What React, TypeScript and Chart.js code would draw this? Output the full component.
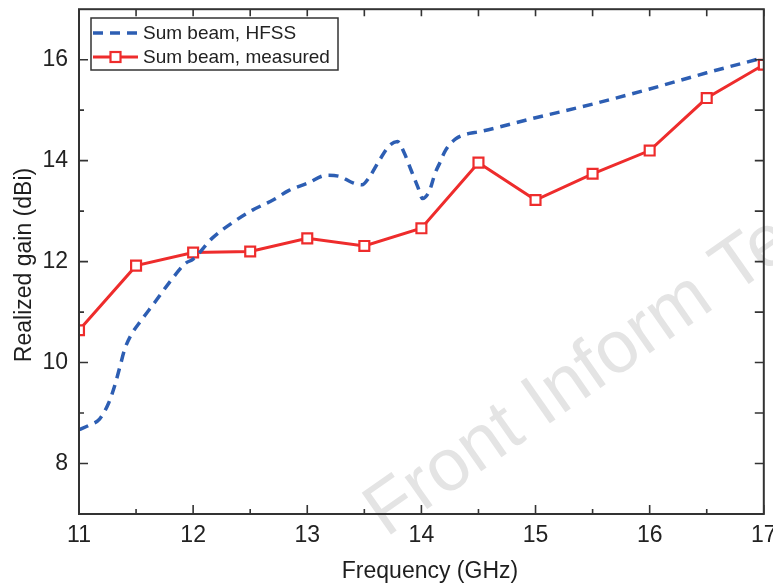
import React, { useEffect, useRef } from "react";
import { Chart, registerables } from "chart.js";

Chart.register(...registerables);

// ---- data ----
const hfssFreq = [
  11.0, 11.1, 11.18, 11.26, 11.31, 11.36, 11.4, 11.45, 11.55, 11.66, 11.81, 11.93,
  12.0, 12.17, 12.35, 12.52, 12.7, 12.84, 13.0, 13.17, 13.28, 13.4, 13.48, 13.54,
  13.63, 13.72, 13.79, 13.85, 13.91, 13.97, 14.01, 14.07, 14.12, 14.16, 14.21, 14.3,
  14.42, 14.5, 15.0, 15.5, 16.0, 16.5, 17.0,
];
const hfssGain = [
  8.67, 8.77, 8.88, 9.2, 9.52, 9.93, 10.26, 10.52, 10.85, 11.18, 11.64, 11.96,
  12.05, 12.47, 12.78, 13.02, 13.22, 13.41, 13.55, 13.71, 13.69, 13.56, 13.52, 13.66,
  14.0, 14.3, 14.38, 14.15, 13.81, 13.47, 13.25, 13.4, 13.75, 13.95, 14.2, 14.43,
  14.54, 14.57, 14.85, 15.12, 15.42, 15.74, 16.04,
];
const measFreq = [11, 11.5, 12, 12.5, 13, 13.5, 14, 14.5, 15, 15.5, 16, 16.5, 17];
const measGain = [10.64, 11.92, 12.18, 12.2, 12.46, 12.31, 12.66, 13.96, 13.22, 13.74, 14.2, 15.24, 15.9];

const xMajorTicks = [11, 12, 13, 14, 15, 16, 17];
const xMinorTicks = [11.5, 12.5, 13.5, 14.5, 15.5, 16.5];
const yMajorTicks = [8, 10, 12, 14, 16];
const yMinorTicks = [9, 11, 13, 15];

const seriesLabels = ["Sum beam, HFSS", "Sum beam, measured"];
const xTitle = "Frequency (GHz)";
const yTitle = "Realized gain (dBi)";
const watermark = "Front Inform Technol Electron Eng";

const BLUE = "#2d5eb3";
const RED = "#ee2c2c";
const FONT = "'Liberation Sans', Arial, sans-serif";

export default function App() {
  const ref = useRef<HTMLCanvasElement | null>(null);

  useEffect(() => {
    document.body.style.margin = "0";
    const canvas = ref.current;
    if (!canvas) return;

    const decor = {
      id: "decor",
      beforeDraw(chart: any) {
        const ctx = chart.ctx;
        ctx.save();
        ctx.fillStyle = "#ffffff";
        ctx.fillRect(0, 0, chart.width, chart.height);
        // watermark
        ctx.translate(386, 538);
        ctx.rotate((-35 * Math.PI) / 180);
        ctx.font = `74px ${FONT}`;
        ctx.fillStyle = "#e4e4e4";
        ctx.textAlign = "left";
        ctx.textBaseline = "alphabetic";
        ctx.fillText(watermark, 0, 0);
        ctx.restore();
      },
      afterDraw(chart: any) {
        const ctx = chart.ctx;
        const a = chart.chartArea;
        const xs = chart.scales.x;
        const ys = chart.scales.y;
        ctx.save();
        ctx.strokeStyle = "#333333";
        ctx.lineWidth = 2;
        ctx.strokeRect(a.left, a.top, a.right - a.left, a.bottom - a.top);
        ctx.lineWidth = 1.6;
        ctx.beginPath();
        xMajorTicks.forEach((v) => {
          const px = xs.getPixelForValue(v);
          ctx.moveTo(px, a.bottom);
          ctx.lineTo(px, a.bottom - 9);
          ctx.moveTo(px, a.top);
          ctx.lineTo(px, a.top + 7);
        });
        xMinorTicks.forEach((v) => {
          const px = xs.getPixelForValue(v);
          ctx.moveTo(px, a.bottom);
          ctx.lineTo(px, a.bottom - 5);
          ctx.moveTo(px, a.top);
          ctx.lineTo(px, a.top + 7);
        });
        yMajorTicks.forEach((v) => {
          const py = ys.getPixelForValue(v);
          ctx.moveTo(a.left, py);
          ctx.lineTo(a.left + 9, py);
          ctx.moveTo(a.right, py);
          ctx.lineTo(a.right - 9, py);
        });
        yMinorTicks.forEach((v) => {
          const py = ys.getPixelForValue(v);
          ctx.moveTo(a.left, py);
          ctx.lineTo(a.left + 5, py);
          ctx.moveTo(a.right, py);
          ctx.lineTo(a.right - 9, py);
        });
        ctx.stroke();

        // axis titles
        ctx.fillStyle = "#1e1e1e";
        ctx.font = `23px ${FONT}`;
        ctx.textAlign = "center";
        ctx.textBaseline = "alphabetic";
        ctx.fillText(xTitle, 430, 578);
        ctx.save();
        ctx.translate(31, 265);
        ctx.rotate(-Math.PI / 2);
        ctx.fillText(yTitle, 0, 0);
        ctx.restore();

        // legend
        const lx = 91, ly = 18, lw = 247, lh = 52;
        ctx.fillStyle = "#ffffff";
        ctx.fillRect(lx, ly, lw, lh);
        ctx.strokeStyle = "#333333";
        ctx.lineWidth = 1.5;
        ctx.strokeRect(lx, ly, lw, lh);
        const r1 = 33, r2 = 57;
        ctx.save();
        ctx.strokeStyle = BLUE;
        ctx.lineWidth = 3.5;
        ctx.setLineDash([10, 7]);
        ctx.beginPath();
        ctx.moveTo(93, r1);
        ctx.lineTo(140, r1);
        ctx.stroke();
        ctx.restore();
        ctx.strokeStyle = RED;
        ctx.lineWidth = 3;
        ctx.beginPath();
        ctx.moveTo(93, r2);
        ctx.lineTo(138, r2);
        ctx.stroke();
        ctx.fillStyle = "#ffffff";
        ctx.fillRect(110.5, r2 - 5, 10, 10);
        ctx.lineWidth = 2.2;
        ctx.strokeRect(110.5, r2 - 5, 10, 10);
        ctx.fillStyle = "#222222";
        ctx.font = `19px ${FONT}`;
        ctx.textAlign = "left";
        ctx.textBaseline = "middle";
        ctx.fillText(seriesLabels[0], 143, r1 + 1);
        ctx.fillText(seriesLabels[1], 143, r2 + 1);
        ctx.restore();
      },
    };

    const zeroPad = (s: any) => {
      s.paddingLeft = 0;
      s.paddingRight = 0;
      s.paddingTop = 0;
      s.paddingBottom = 0;
    };

    const chart = new Chart(canvas, {
      type: "line",
      data: {
        datasets: [
          {
            label: seriesLabels[0],
            data: hfssFreq.map((x, i) => ({ x, y: hfssGain[i] })),
            borderColor: BLUE,
            borderWidth: 3.5,
            borderDash: [10, 7],
            pointRadius: 0,
            cubicInterpolationMode: "monotone",
            fill: false,
          },
          {
            label: seriesLabels[1],
            data: measFreq.map((x, i) => ({ x, y: measGain[i] })),
            borderColor: RED,
            borderWidth: 3,
            pointStyle: "rect",
            pointRadius: 7,
            pointBorderWidth: 2.2,
            pointBackgroundColor: "#ffffff",
            pointBorderColor: RED,
            tension: 0,
            fill: false,
          },
        ],
      },
      options: {
        responsive: false,
        animation: false,
        devicePixelRatio: 1,
        layout: { padding: { top: 8, right: 7, left: 0, bottom: 0 } },
        plugins: { legend: { display: false }, tooltip: { enabled: false }, title: { display: false } },
        scales: {
          x: {
            type: "linear",
            min: 11,
            max: 17,
            grid: { display: false, drawTicks: false },
            border: { display: false },
            ticks: {
              stepSize: 1,
              padding: 8,
              color: "#222222",
              font: { family: FONT, size: 23 },
            },
            afterBuildTicks: (s: any) => {
              s.ticks = xMajorTicks.map((v) => ({ value: v }));
            },
            afterFit: (s: any) => {
              s.height = 70;
              zeroPad(s);
            },
          },
          y: {
            type: "linear",
            min: 7,
            max: 17,
            grid: { display: false, drawTicks: false },
            border: { display: false },
            ticks: {
              padding: 11,
              color: "#222222",
              font: { family: FONT, size: 23 },
            },
            afterBuildTicks: (s: any) => {
              s.ticks = yMajorTicks.map((v) => ({ value: v }));
            },
            afterFit: (s: any) => {
              s.width = 79;
              zeroPad(s);
            },
          },
        },
      },
      plugins: [decor],
    });

    return () => chart.destroy();
  }, []);

  return (
    <div style={{ width: 773, height: 584 }}>
      <canvas ref={ref} width={773} height={584} />
    </div>
  );
}
